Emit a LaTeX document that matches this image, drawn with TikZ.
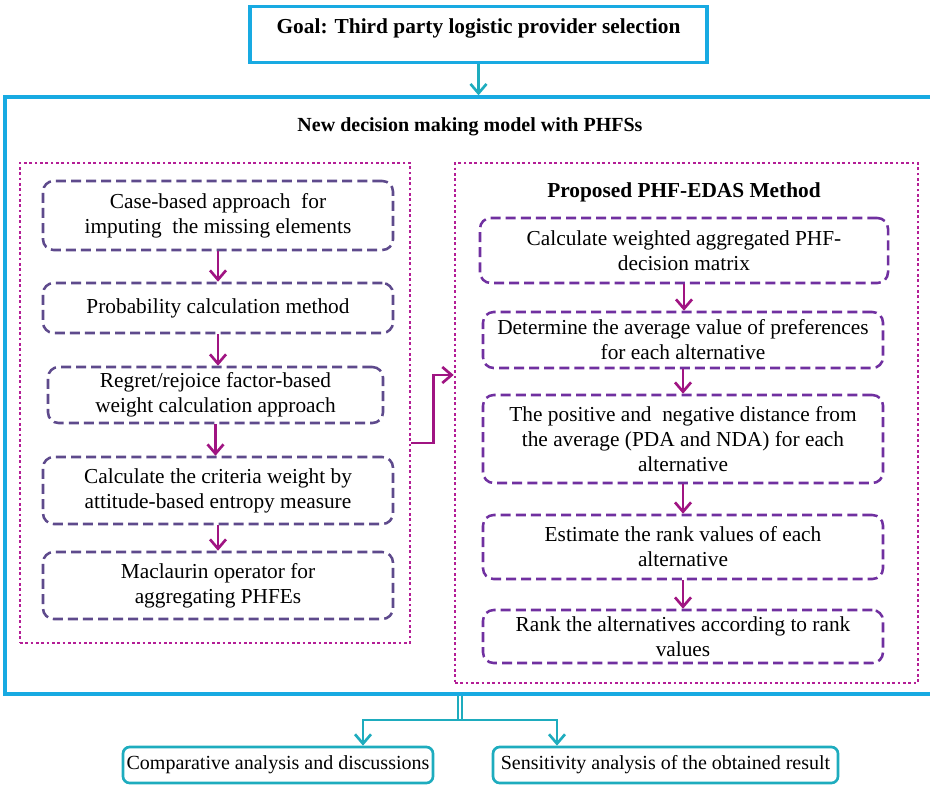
\documentclass[tikz,border=0pt]{standalone}
\usepackage{fontspec}
\setmainfont{Liberation Serif}
\usetikzlibrary{arrows.meta}
\tikzset{every picture/.style={line width=0.75pt}}

\begin{document}
\begin{tikzpicture}[x=0.75pt,y=0.75pt,yscale=-1,xscale=1,
  font=\fontsize{16pt}{18.75pt}\selectfont,
  skyline/.style={draw={rgb, 255:red, 24; green, 170; blue, 226 }, line width=2.5pt},
  tealline/.style={draw={rgb, 255:red, 30; green, 172; blue, 190 }, line width=2pt},
  tealarrow/.style={tealline, -{Straight Barb[length=7pt,width=12pt]}},
  colarrow/.style={draw={rgb, 255:red, 160; green, 20; blue, 130 }, line width=2pt, -{Straight Barb[length=7pt,width=12pt]}},
  dotbox/.style={draw={rgb, 255:red, 180; green, 30; blue, 150 }, line width=2pt, dash pattern={on 2pt off 2pt}},
  lbox/.style={draw={rgb, 255:red, 94; green, 74; blue, 140 }, line width=1.9pt, dash pattern={on 7.5pt off 3.8pt}, rounded corners=8pt, align=center, minimum width=262.5pt, inner sep=2pt},
  rbox/.style={draw={rgb, 255:red, 112; green, 48; blue, 160 }, line width=1.9pt, dash pattern={on 7.5pt off 3.8pt}, rounded corners=8pt, align=center, minimum width=300pt, inner sep=2pt},
  resultbox/.style={tealline, rounded corners=5pt, minimum height=27pt, inner sep=2pt, font=\fontsize{15pt}{18pt}\selectfont},
  titletext/.style={font=\fontsize{15pt}{18pt}\selectfont\bfseries, inner sep=0.75pt}]
\useasboundingbox (0,0) rectangle (930,785);

%Shape: Rectangle (goal)
\node [skyline, anchor=north, minimum width=342.75pt, minimum height=42pt, inner sep=4pt, text height=16pt, text depth=18pt, font=\fontsize{16pt}{18.75pt}\selectfont\bfseries] (goal) at (478.5,5) {Goal: Third party logistic provider selection};
%Shape: Rectangle (model)
\node [skyline, minimum width=701.25pt, minimum height=447.75pt] (model) at (472.5,395.5) {};
% Text Node
\node [titletext] (modeltitle) at (470,127) {New decision making model with PHFSs};

%Shape: Dotted Rectangles
\node [dotbox, minimum width=292.5pt, minimum height=360pt] (leftgrp) at (215,403) {};
\node [dotbox, minimum width=347.25pt, minimum height=390pt] (rightgrp) at (686.5,423) {};
% Text Node
\node [titletext, font=\fontsize{16pt}{18pt}\selectfont\bfseries] (edastitle) at (684,192) {Proposed PHF-EDAS Method};

%Rounded Rect (left column)
\node [lbox, minimum height=51.75pt] (l1) at (218,215.5) {Case-based approach~ for\\imputing~ the missing elements};
\node [lbox, minimum height=37.5pt] (l2) at (218,308) {Probability calculation method};
\node [lbox, minimum width=251.25pt, minimum height=42pt] (l3) at (215.5,395) {Regret/rejoice factor-based\\weight calculation approach};
\node [lbox, minimum height=50.25pt] (l4) at (218,490.5) {Calculate the criteria weight by\\attitude-based entropy measure};
\node [lbox, minimum height=50.25pt] (l5) at (218,585.5) {Maclaurin operator for\\aggregating PHFEs};

%Rounded Rect (right column)
\node [rbox, minimum width=306pt, minimum height=48.75pt] (r1) at (684,250.5) {Calculate weighted aggregated PHF-\\decision matrix};
\node [rbox, minimum height=42pt] (r2) at (683,340) {Determine the average value of preferences\\for each alternative};
\node [rbox, minimum height=66pt] (r3) at (683,439) {The positive and~ negative distance from\\the average (PDA and NDA) for each\\alternative};
\node [rbox, minimum height=48pt] (r4) at (683,547) {Estimate the rank values of each\\alternative};
\node [rbox, minimum height=39.75pt] (r5) at (683,636.5) {Rank the alternatives according to rank\\values};

%Rounded Rect (results)
\node [resultbox, minimum width=232.5pt] (c1) at (278,765) {Comparative analysis and discussions};
\node [resultbox, minimum width=258.75pt] (c2) at (665.5,765) {Sensitivity analysis of the obtained result};

%Straight Lines
\draw [tealarrow] (goal) -- (goal.south |- model.north);
\draw [colarrow] (l1.south) -- (l1.south |- l2.north);
\draw [colarrow] (l2.south) -- (l2.south |- l3.north);
\draw [colarrow] (l3.south) -- (l3.south |- l4.north);
\draw [colarrow] (l4.south) -- (l4.south |- l5.north);
\draw [colarrow] (r1.south) -- (r1.south |- r2.north);
\draw [colarrow] (r2.south) -- (r2.south |- r3.north);
\draw [colarrow] (r3.south) -- (r3.south |- r4.north);
\draw [colarrow] (r4.south) -- (r4.south |- r5.north);
\draw [colarrow] (leftgrp.east |- 0,443) -- ++(22,0) |- (rightgrp.west |- 0,375);

%Connectors (results)
\coordinate (split) at (460,720);
\draw [tealline, line width=1.2pt, double=white, double distance=1.6pt] (model.south -| split) -- (split);
\draw [tealarrow] (split) -| (c1.north -| 363,0);
\draw [tealarrow] (split) -| (c2.north -| 557,0);

\end{tikzpicture}
\end{document}
